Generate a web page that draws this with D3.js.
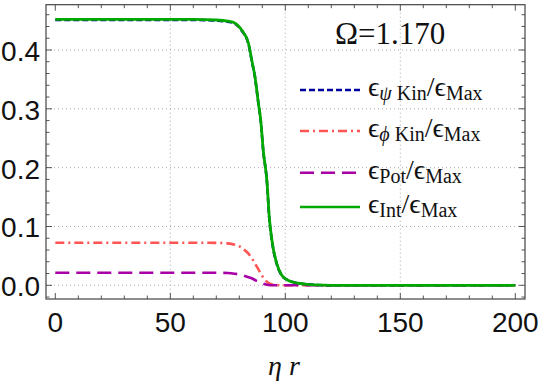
<!DOCTYPE html>
<html>
<head>
<meta charset="utf-8">
<script src="https://cdn.jsdelivr.net/npm/d3@7"></script>
<style>
  html, body { margin: 0; padding: 0; background: #fff; }
  svg { display: block; }
</style>
</head>
<body>
<div id="canvas"></div>
<script>
// values (eta r, energy / energy max)
const intR   = [0, 20, 40, 60, 70, 75, 78, 81, 84, 85.4, 86.8, 88.3, 89.3, 90.4, 92.1, 93, 94.4, 96.3, 98.4, 100.5, 102.8, 105.5, 108.6, 113, 120, 140, 160, 180, 200];
const intVal = [0.452, 0.452, 0.452, 0.452, 0.451, 0.449, 0.446, 0.434, 0.411, 0.383, 0.355, 0.31, 0.281, 0.23, 0.173, 0.117, 0.071, 0.037, 0.0175, 0.010, 0.006, 0.0035, 0.002, 0.0007, 0, 0, 0, 0, 0];
const psiVal = [0.451, 0.451, 0.451, 0.451, 0.450, 0.448, 0.445, 0.433, 0.410, 0.382, 0.354, 0.309, 0.280, 0.229, 0.172, 0.116, 0.070, 0.036, 0.017, 0.010, 0.006, 0.0035, 0.002, 0.0007, 0, 0, 0, 0, 0];

const phiR   = [0, 20, 40, 60, 70, 75, 78, 80.3, 82, 83.9, 85.4, 86.8, 88.3, 89.7, 91, 92.6, 94, 97, 100, 120, 160, 200];
const phiVal = [0.0724, 0.0724, 0.0724, 0.0724, 0.0722, 0.0712, 0.0690, 0.0657, 0.0608, 0.0544, 0.0462, 0.0374, 0.0272, 0.0175, 0.0100, 0.0044, 0.0018, 0.0002, 0, 0, 0, 0];

const potR   = [0, 20, 40, 60, 70, 75, 78, 81, 83, 85.4, 87, 88.3, 90, 92.6, 95, 100, 120, 160, 200];
const potVal = [0.0214, 0.0214, 0.0214, 0.0214, 0.0213, 0.0208, 0.0196, 0.0175, 0.0150, 0.0119, 0.0086, 0.0060, 0.0032, 0.0006, 0, 0, 0, 0, 0];

const xTicks = [0, 50, 100, 150, 200];
const yTicks = [0.0, 0.1, 0.2, 0.3, 0.4];

const W = 542, H = 384;
const frame = { left: 46, right: 525, top: 4.7, bottom: 299 };

const x = d3.scaleLinear().domain([0, 200]).range([55.3, 515.3]);
const y = d3.scaleLinear().domain([0, 0.4]).range([285.3, 50]);

const svg = d3.select("#canvas").append("svg")
  .attr("width", W).attr("height", H)
  .attr("viewBox", [0, 0, W, H]);

// grid lines
const grid = svg.append("g")
  .attr("stroke", "#a8a8a8").attr("stroke-width", 1)
  .attr("stroke-dasharray", "1,3");
grid.selectAll("line.gx").data([50, 100, 150]).join("line")
  .attr("x1", d => x(d)).attr("x2", d => x(d))
  .attr("y1", frame.top).attr("y2", frame.bottom);
grid.selectAll("line.gy").data(yTicks).join("line")
  .attr("x1", frame.left).attr("x2", frame.right)
  .attr("y1", d => y(d)).attr("y2", d => y(d));

// ticks on all four sides, pointing inward
const tickG = svg.append("g").attr("stroke", "#555").attr("stroke-width", 1);
const xMinor = d3.range(0, 201, 10);
const yMinor = d3.range(-0.02, 0.4701, 0.02).map(v => +v.toFixed(2));
const isMajX = v => v % 50 === 0;
const isMajY = v => Math.abs(Math.round(v * 10) - v * 10) < 1e-6;
xMinor.forEach(v => {
  const len = isMajX(v) ? 6 : 3.5;
  tickG.append("line").attr("x1", x(v)).attr("x2", x(v)).attr("y1", frame.bottom).attr("y2", frame.bottom - len);
  tickG.append("line").attr("x1", x(v)).attr("x2", x(v)).attr("y1", frame.top).attr("y2", frame.top + len);
});
yMinor.forEach(v => {
  const len = isMajY(v) ? 6 : 3.5;
  tickG.append("line").attr("y1", y(v)).attr("y2", y(v)).attr("x1", frame.left).attr("x2", frame.left + len);
  tickG.append("line").attr("y1", y(v)).attr("y2", y(v)).attr("x1", frame.right).attr("x2", frame.right - len);
});

// frame
svg.append("rect")
  .attr("x", frame.left).attr("y", frame.top)
  .attr("width", frame.right - frame.left).attr("height", frame.bottom - frame.top)
  .attr("fill", "none").attr("stroke", "#444").attr("stroke-width", 1.2);

// tick labels
const labFont = "'Liberation Sans', Arial, sans-serif";
svg.append("g").selectAll("text").data(xTicks).join("text")
  .attr("x", d => x(d)).attr("y", 331.7)
  .attr("text-anchor", "middle")
  .attr("font-family", labFont).attr("font-size", 28).attr("fill", "#111")
  .text(d => d);
svg.append("g").selectAll("text").data(yTicks).join("text")
  .attr("x", 40).attr("y", d => y(d)).attr("dy", "0.39em")
  .attr("text-anchor", "end")
  .attr("font-family", labFont).attr("font-size", 28).attr("fill", "#111")
  .text(d => d.toFixed(1));

// axis label
const serif = "'Liberation Serif', 'Times New Roman', 'DejaVu Serif', serif";
svg.append("text")
  .attr("x", 284).attr("y", 375).attr("text-anchor", "middle")
  .attr("font-family", serif).attr("font-style", "italic").attr("font-size", 28)
  .attr("fill", "#111")
  .text("η r");

// curves
const line = d3.line().x(d => x(d[0])).y(d => y(d[1])).curve(d3.curveMonotoneX);
const series = [
  { r: phiR, v: phiVal, color: "#ff5454", dash: "9,4,2,4", w: 2.6 },
  { r: potR, v: potVal, color: "#a600a6", dash: "14,7", w: 2.6 },
  { r: intR, v: psiVal, color: "#00009e", dash: "6,3", w: 2.6 },
  { r: intR, v: intVal, color: "#00a800", dash: null, w: 2.8 }
];
series.forEach(s => {
  svg.append("path")
    .datum(s.r.map((r, i) => [r, s.v[i]]))
    .attr("d", line)
    .attr("fill", "none")
    .attr("stroke", s.color)
    .attr("stroke-width", s.w)
    .attr("stroke-dasharray", s.dash);
});

// legend
svg.append("text")
  .attr("x", 335).attr("y", 44)
  .attr("font-family", serif).attr("font-size", 31).attr("fill", "#111")
  .text("Ω=1.170");

const legendRows = [
  { sub: [["ψ", true], [" Kin", false]], color: "#00009e", dash: "6,3", y: 90 },
  { sub: [["ϕ", true], [" Kin", false]], color: "#ff5454", dash: "9,4,2,4", y: 131 },
  { sub: [["Pot", false]], color: "#a600a6", dash: "14,7", y: 172.7 },
  { sub: [["Int", false]], color: "#00a800", dash: null, y: 207 }
];
legendRows.forEach(row => {
  svg.append("line")
    .attr("x1", 300).attr("x2", 360).attr("y1", row.y).attr("y2", row.y)
    .attr("stroke", row.color).attr("stroke-width", 2.6)
    .attr("stroke-dasharray", row.dash);
  const t = svg.append("text")
    .attr("x", 368).attr("y", row.y + 6)
    .attr("font-family", serif).attr("font-size", 28).attr("fill", "#111");
  t.append("tspan").text("ϵ");
  row.sub.forEach(([s, it], i) => {
    const sp = t.append("tspan").attr("font-size", 20).text(s);
    if (it) sp.attr("font-style", "italic");
    if (i === 0) sp.attr("dy", 4);
  });
  t.append("tspan").attr("dy", -4).text("/ϵ");
  t.append("tspan").attr("font-size", 20).attr("dy", 4).text("Max");
});
</script>
</body>
</html>
